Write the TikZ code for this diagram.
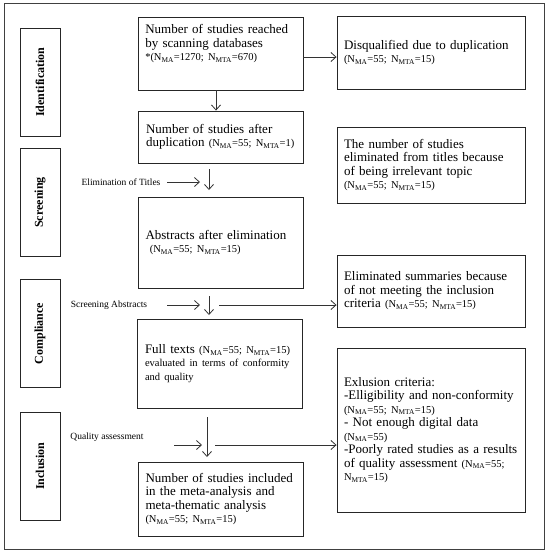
\documentclass[tikz,border=0pt]{standalone}
\usepackage{fontspec}
\setmainfont{Liberation Serif}
\usetikzlibrary{arrows.meta,positioning}

\newcommand{\Nma}{N\textsubscript{MA}}
\newcommand{\Nmta}{N\textsubscript{MTA}}
\newcommand{\sm}{\fontsize{10.5}{12}\selectfont}

\tikzset{
  mainbox/.style={draw=black!85, line width=0.9pt, align=left, text width=150pt,
    inner xsep=7.5pt, inner ysep=4pt, font=\fontsize{13}{13.5}\selectfont},
  sidebox/.style={mainbox, text width=174pt, inner xsep=7pt},
  boxtext/.style={align=left, text width=150pt, inner xsep=7.5pt, inner ysep=8pt,
    font=\fontsize{13}{13.5}\selectfont},
  stagebox/.style={draw=black!85, line width=0.9pt, rotate=90, minimum width=108pt,
    minimum height=40pt, font=\fontsize{12}{14}\selectfont\bfseries},
  steplabel/.style={font=\fontsize{9.5}{11}\selectfont},
  arr/.style={-{Straight Barb[length=5pt,width=9pt]}, line width=0.8pt, draw=black!80},
}

\begin{document}
\begin{tikzpicture}[x=1pt,y=-1pt]
  \useasboundingbox (0,0) rectangle (550,552);

  % outer frame
  \draw[black!75, line width=0.9pt] (4,3) rectangle (544,549);

  % stages on the left
  \foreach \nm/\yc/\lab in {ident/82/Identification, screen/202.5/Screening,
                            compl/333.5/Compliance, inclu/466/Inclusion} {
    \node[stagebox] (\nm) at (40,\yc) {\lab};
  }

  % main column
  \node[mainbox, minimum height=73pt] (reach) at (220.5,53.5) {};
  \node[boxtext, anchor=north west] (reachtxt) at (reach.north west)
    {Number of studies reached\\by scanning databases\\{\sm *(\Nma=1270; \Nmta=670)}};
  \node[mainbox, minimum height=52pt] (dup) at (221,137)
    {Number of studies after\\duplication {\sm (\Nma=55; \Nmta=1)}};
  \node[mainbox, minimum height=91pt] (abstr) at (220.5,242.5)
    {Abstracts after elimination\\{\sm\ (\Nma=55; \Nmta=15)}};
  \node[mainbox, minimum height=89pt] (full) at (220,363.5)
    {Full texts {\sm (\Nma=55; \Nmta=15)}\\{\sm evaluated in terms of conformity}\\{\sm and quality}};
  \node[mainbox, minimum height=74pt] (incl) at (220.5,499)
    {Number of studies included\\in the meta-analysis and\\meta-thematic analysis\\{\sm (\Nma=55; \Nmta=15)}};

  % right column
  \node[sidebox, minimum height=73pt] (disq) at (431,52.5)
    {Disqualified due to duplication\\{\sm (\Nma=55; \Nmta=15)}};
  \node[sidebox, minimum height=76pt] (irrel) at (431,165)
    {The number of studies\\eliminated from titles because\\of being irrelevant topic\\{\sm (\Nma=55; \Nmta=15)}};
  \node[sidebox, minimum height=72pt] (summ) at (431,291)
    {Eliminated summaries because\\of not meeting the inclusion\\criteria {\sm (\Nma=55; \Nmta=15)}};
  \node[sidebox, minimum height=164pt] (excl) at (431,430)
    {Exlusion criteria:\\-Elligibility and non-conformity\\{\sm (\Nma=55; \Nmta=15)}\\- Not enough digital data\\{\sm (\Nma=55)}\\-Poorly rated studies as a results\\of quality assessment {\sm (\Nma=55;}\\{\sm \Nmta=15)}};

  % step labels
  \node[steplabel] (elimtxt) at (121,182) {Elimination of Titles};
  \node[steplabel] (scrtxt) at (109,305) {Screening Abstracts};
  \node[steplabel] (qualtxt) at (107,437) {Quality assessment};

  % arrow end points
  \coordinate (e1) at (167,182);  \coordinate (e2) at (200,182);
  \coordinate (e3) at (209,169);  \coordinate (e4) at (209,190);
  \coordinate (s1) at (167,305);  \coordinate (s2) at (200,305);
  \coordinate (s3) at (209,296);  \coordinate (s4) at (209,315);
  \coordinate (s5) at (219,305);
  \coordinate (q1) at (174,445);  \coordinate (q2) at (202,445);
  \coordinate (q3) at (207,417);  \coordinate (q4) at (207,457);
  \coordinate (q5) at (215,445);

  % connectors
  \draw[arr] (reach.south -| 216,0) -- (dup.north -| 216,0);
  \draw[arr] (reach.east |- 0,57) -- (disq.west |- 0,57);
  \draw[arr] (e1) -- (e2);
  \draw[arr] (e3) -- (e4);
  \draw[arr] (s1) -- (s2);
  \draw[arr] (s3) -- (s4);
  \draw[arr] (s5) -- (s5 -| summ.west);
  \draw[arr] (q1) -- (q2);
  \draw[arr] (q3) -- (q4);
  \draw[arr] (q5) -- (q5 -| excl.west);

\end{tikzpicture}
\end{document}
